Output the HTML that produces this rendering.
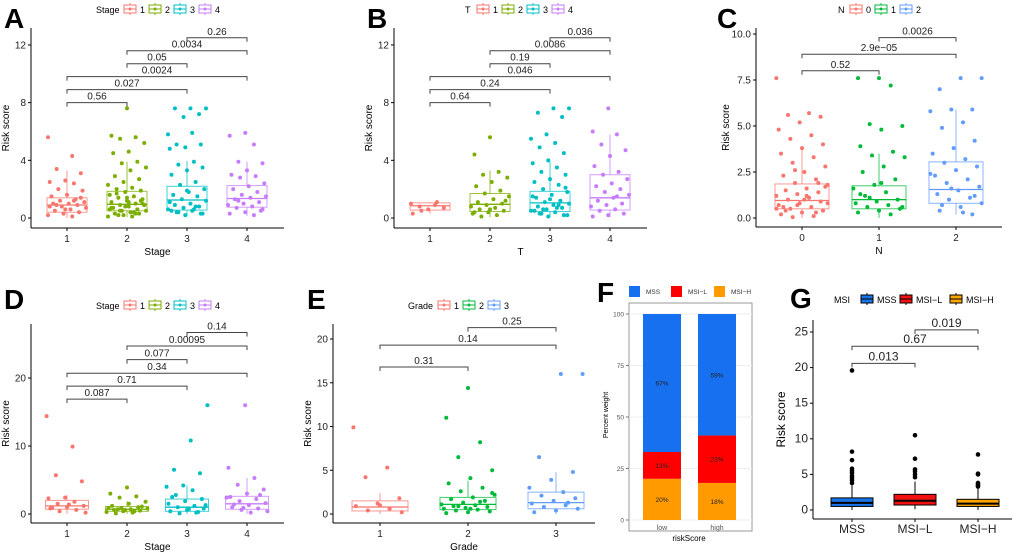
<!DOCTYPE html>
<html><head><meta charset="utf-8"><style>
body{margin:0;background:#fff;}
svg{display:block;font-family:"Liberation Sans",sans-serif;}
</style></head><body>
<svg id="s" width="1020" height="552" viewBox="0 0 1020 552"></svg>
<script>
// ---------- DATA ----------
const A_cats=['1','2','3','4'];
const A_q1=[0.4,0.5,0.55,0.75], A_med=[0.9,0.95,1.25,1.35], A_q3=[1.4,1.85,2.2,2.25], A_lo=[0,0.05,0.15,0.15], A_hi=[3.3,3.9,3.95,3.9];
const A_pts=[[5.6,4.3,3.4,3.1,2.6,2.5,2.4,2.0,1.9,1.6,1.5,1.3,1.2,1.1,1.0,1.0,0.9,0.8,0.7,0.6,0.5,0.4,0.3,0.2,0.1,0.9,1.4,0.6,0.8,1.2],
[7.6,5.7,5.6,5.5,5.2,4.6,4.5,3.9,3.8,3.5,3.3,2.9,2.7,2.5,2.3,2.1,2.0,1.9,1.8,1.6,1.5,1.4,1.3,1.2,1.1,1.0,0.9,0.9,0.8,0.7,0.6,0.5,0.5,0.4,0.3,0.3,0.2,0.1,0.1,1.7,1.2,0.8,0.6,0.4,0.2,1.0,1.4,0.7,0.3,0.5,0.9,1.1],
[7.6,7.6,7.6,7.2,7.0,5.8,5.9,5.1,5.1,4.9,4.8,3.9,3.7,3.5,3.3,3.0,2.5,2.3,2.0,1.8,1.6,1.5,1.3,1.2,1.0,0.9,0.8,0.7,0.6,0.5,0.4,0.3,0.2,1.1,0.6,0.4,0.3,1.9,0.5,0.8],
[5.9,5.7,5.1,3.9,3.8,3.3,3.0,2.9,2.8,2.4,2.2,2.0,1.8,1.6,1.5,1.4,1.3,1.1,1.0,0.9,0.8,0.7,0.5,0.4,0.3,0.2,1.2,0.6]];
const A_brk=[[0,1,8.0,'0.56'],[0,2,8.9,'0.027'],[0,3,9.8,'0.0024'],[1,2,10.7,'0.05'],[1,3,11.6,'0.0034'],[2,3,12.5,'0.26']];
const A_ticks=[0,4,8,12];

const B_cats=['1','2','3','4'];
const B_q1=[0.55,0.45,0.45,0.55], B_med=[0.85,0.95,1.05,1.4], B_q3=[1.05,1.7,1.85,3.0], B_lo=[0.3,0.05,0.05,0.05], B_hi=[1.1,3.3,3.9,5.8];
const B_pts=[[1.0,0.9,0.8,0.7,0.6,0.3,1.1,0.5],
[5.6,4.4,3.2,3.0,2.8,2.5,2.2,1.9,1.7,1.5,1.3,1.1,1.0,0.9,0.8,0.7,0.6,0.5,0.4,0.3,0.2,0.1,1.2,0.6,0.4],
[7.6,7.6,7.3,7.0,5.8,5.5,5.2,4.9,4.5,4.0,3.8,3.5,3.2,3.0,2.7,2.5,2.3,2.0,1.8,1.6,1.4,1.2,1.1,1.0,0.9,0.8,0.7,0.6,0.5,0.4,0.3,0.2,0.1,1.5,0.7,0.3,2.1,1.3,0.5,0.9,0.6,0.2],
[7.6,6.0,5.8,5.1,4.7,4.3,3.6,3.2,3.0,2.7,2.4,2.2,2.0,1.8,1.6,1.4,1.2,1.0,0.9,0.8,0.6,0.5,0.3,0.2,0.1,1.5]];
const B_brk=[[0,1,8.0,'0.64'],[0,2,8.9,'0.24'],[0,3,9.8,'0.046'],[1,2,10.7,'0.19'],[1,3,11.6,'0.0086'],[2,3,12.5,'0.036']];
const B_ticks=[0,4,8,12];

const C_cats=['0','1','2'];
const C_q1=[0.5,0.5,0.8], C_med=[0.95,1.0,1.55], C_q3=[1.85,1.75,3.05], C_lo=[0,0,0.2], C_hi=[3.9,3.5,5.9];
const C_pts=[[7.6,5.7,5.6,5.5,5.2,4.8,4.5,4.3,4.0,3.8,3.5,3.3,3.0,2.8,2.5,2.3,2.1,1.9,1.8,1.6,1.5,1.4,1.3,1.2,1.1,1.0,0.9,0.8,0.7,0.6,0.5,0.4,0.3,0.2,0.1,0.05,1.7,1.0,0.6,0.3,2.6,0.8,1.2,0.4,1.9,0.7,0.5,1.1],
[7.6,7.6,7.2,5.1,5.0,4.8,3.9,3.6,3.4,3.3,2.8,2.5,2.1,1.8,1.6,1.4,1.2,1.0,0.9,0.8,0.7,0.6,0.5,0.4,0.3,0.2,1.1,0.6,1.9,1.3],
[7.6,7.6,7.0,5.9,5.9,5.8,5.2,4.9,4.2,3.8,3.5,3.2,3.0,2.8,2.6,2.3,2.1,1.9,1.7,1.5,1.3,1.1,1.0,0.8,0.6,0.4,0.2,1.6,2.4,0.3,0.7,1.2]];
const C_brk=[[0,1,8.0,'0.52'],[0,2,8.9,'2.9e\u221205'],[1,2,9.8,'0.0026']];
const C_ticks=[0,2.5,5,7.5,10];
const C_tickLbl=['0.0','2.5','5.0','7.5','10.0'];

const D_cats=['1','2','3','4'];
const D_q1=[0.7,0.4,0.4,0.7], D_med=[1.2,0.7,1.0,1.5], D_q3=[2.0,1.1,2.2,2.6], D_lo=[0,0,0,0], D_hi=[2.8,1.9,4.2,5.3];
const D_pts=[[14.4,9.9,5.7,4.8,2.4,2.3,1.8,1.5,1.2,1.0,0.8,0.6,0.4,0.2,1.4,0.9],
[3.9,3.0,2.6,2.4,1.8,1.5,1.2,1.0,0.9,0.8,0.7,0.6,0.5,0.4,0.3,0.2,0.1,1.1,0.6,0.9,0.4,0.7],
[16.0,10.8,6.5,6.0,4.2,4.0,3.5,2.8,2.2,1.9,1.5,1.2,1.0,0.8,0.6,0.4,0.2,0.1,1.3,0.7,2.5,0.3],
[16.0,6.8,5.3,4.3,3.6,3.0,2.5,2.2,1.9,1.6,1.3,1.0,0.8,0.6,0.4,0.2,1.4,2.8,0.9,2.4]];
const D_brk=[[0,1,16.9,'0.087'],[0,2,18.8,'0.71'],[0,3,20.7,'0.34'],[1,2,22.7,'0.077'],[1,3,24.7,'0.00095'],[2,3,26.7,'0.14']];
const D_ticks=[0,10,20];

const E_cats=['1','2','3'];
const E_q1=[0.35,0.5,0.6], E_med=[0.8,1.1,1.3], E_q3=[1.5,1.9,2.5], E_lo=[0,0,0], E_hi=[2.4,3.8,4.8];
const E_pts=[[9.9,5.3,4.2,1.8,1.2,0.9,0.6,0.4,0.2,1.0],
[14.4,11.0,8.2,6.5,5.0,4.1,3.5,3.0,2.6,2.2,1.9,1.7,1.5,1.3,1.1,1.0,0.9,0.8,0.7,0.6,0.5,0.4,0.3,0.2,0.1,1.4,0.9,2.4,0.6],
[16.0,16.0,6.5,4.8,3.9,3.0,2.5,2.1,1.8,1.5,1.2,1.0,0.8,0.6,0.4,0.2,1.3]];
const E_brk=[[0,1,16.8,'0.31'],[0,2,19.3,'0.14'],[1,2,21.3,'0.25']];
const E_ticks=[0,5,10,15,20];

const F_cats=['low','high'];
const F_mss=[67,59], F_msil=[13,23], F_msih=[20,18];
const F_ticks=[0,25,50,75,100];

const G_cats=['MSS','MSI\u2212L','MSI\u2212H'];
const G_q1=[0.5,0.7,0.5], G_med=[1.0,1.3,0.9], G_q3=[1.7,2.2,1.5], G_lo=[0,0.1,0], G_hi=[3.5,4.0,3.1];
const G_out=[[19.6,8.2,7.0,5.8,5.5,5.2,4.8,4.5,4.2,3.8],[10.5,7.2,5.7,5.4,5.0,4.6],[7.8,5.1,5.0,3.8,3.6,3.4,3.3]];
const G_brk=[[0,1,20.6,'0.013'],[0,2,23.0,'0.67'],[1,2,25.3,'0.019']];
const G_ticks=[0,5,10,15,20,25];

// ---------- DRAW ----------
const S=document.getElementById('s'),NS='http://www.w3.org/2000/svg';
function el(t,a,p,txt){const e=document.createElementNS(NS,t);for(const k in a)e.setAttribute(k,a[k]);if(txt!==undefined)e.textContent=txt;(p||S).appendChild(e);return e;}
function grp(name){const g=el('g',{});


return g;}
function letter(x,y,t){const e=el('text',{x:x,y:y,'font-size':28,'font-weight':'bold'},S,t);

}

function boxPanel(c){
  const g=grp(c.name);
  const Y=v=>c.y0-v*c.ppu;
  el('line',{x1:c.ax,y1:c.top,x2:c.ax,y2:c.xAxisY,stroke:'#000','stroke-width':1},g);
  el('line',{x1:c.ax,y1:c.xAxisY,x2:c.right,y2:c.xAxisY,stroke:'#000','stroke-width':1},g);
  c.ticks.forEach((t,i)=>{el('line',{x1:c.ax-3,x2:c.ax,y1:Y(t),y2:Y(t),stroke:'#000'},g);
    const tl=el('text',{x:c.ax-5,y:Y(t)+3.5,'font-size':c.fs||10,'text-anchor':'end',fill:'#222'},g,c.tickLbl?c.tickLbl[i]:t);
    
    });
  c.cats.forEach((k,i)=>{const x=c.cx[i];el('line',{x1:x,x2:x,y1:c.xAxisY,y2:c.xAxisY+3,stroke:'#000'},g);
    const tl=el('text',{x:x,y:c.xAxisY+14,'font-size':c.fs||10,'text-anchor':'middle',fill:'#222'},g,k);
    
    });
  const yt=el('text',{x:0,y:0,'font-size':c.fs||10,'text-anchor':'middle',transform:`translate(${c.ax-c.ytOff},${(c.top+c.xAxisY)/2}) rotate(-90)`},g,'Risk score');
  
  
  if(c.xt){const xt=el('text',{x:(c.ax+c.right)/2,y:c.xAxisY+27,'font-size':10,'text-anchor':'middle'},g,c.xt);
    
    }
  c.cats.forEach((k,i)=>{
    const x=c.cx[i],w=c.bw,col=c.cols[i];
    const bg=el('g',{},g);
    
    
    const sc=c.filled?'#000':col, op=c.filled?1:0.75;
    el('line',{x1:x,x2:x,y1:Y(c.lo[i]),y2:Y(c.q1[i]),stroke:sc,'stroke-opacity':op},bg);
    el('line',{x1:x,x2:x,y1:Y(c.q3[i]),y2:Y(c.hi[i]),stroke:sc,'stroke-opacity':op},bg);
    el('rect',{x:x-w/2,y:Y(c.q3[i]),width:w,height:Y(c.q1[i])-Y(c.q3[i]),fill:c.filled?col:'none',stroke:sc,'stroke-opacity':op,'stroke-width':1},bg);
    el('line',{x1:x-w/2,x2:x+w/2,y1:Y(c.med[i]),y2:Y(c.med[i]),stroke:sc,'stroke-width':c.filled?2:1.3},bg);
    if(c.pts){c.pts[i].forEach((v,j)=>{const off=(((j*37+i*11)%23)/22-0.5)*w*0.95;
      const p=el('circle',{cx:x+off,cy:Y(v),r:2,fill:col},bg);
      
      });}
    if(c.out){c.out[i].forEach(v=>{const p=el('circle',{cx:x,cy:Y(v),r:2.3,fill:'#000'},bg);
      
      });}
  });
  c.brk.forEach(b=>{const x1=c.cx[b[0]],x2=c.cx[b[1]],y=Y(b[2]);
    const bk=el('g',{},g);
    
    
    el('path',{d:`M${x1},${y+4}V${y}H${x2}V${y+4}`,fill:'none',stroke:'#444','stroke-width':1},bk);
    el('text',{x:(x1+x2)/2,y:y-3,'font-size':c.fs||10,'text-anchor':'middle',fill:'#222'},bk,b[3]);});
  if(c.leg){const lg=el('g',{},g);
    
    
    let x=c.leg.x;const y=c.leg.y;
    el('text',{x:x,y:y+4,'font-size':c.leg.fs||9},lg,c.leg.title);x+=c.leg.tw;
    c.cats.forEach((k,i)=>{const col=c.cols[i];
      el('line',{x1:x+6,x2:x+6,y1:y-6,y2:y+6,stroke:c.filled?'#000':col},lg);
      el('rect',{x:x,y:y-4,width:12,height:8,fill:c.filled?col:'#fff',stroke:c.filled?'#000':col},lg);
      el('line',{x1:x,x2:x+12,y1:y,y2:y,stroke:c.filled?'#000':col},lg);
      if(!c.filled)el('circle',{cx:x+6,cy:y,r:1.5,fill:col},lg);
      el('text',{x:x+16,y:y+4,'font-size':c.leg.fs||9},lg,c.leg.labels?c.leg.labels[i]:k);
      x+=c.leg.step[i]||c.leg.step[0];});
  }
}
const hue4=['#F8766D','#7CAE00','#00BFC4','#C77CFF'], hue3=['#F8766D','#00BA38','#619CFF'];

letter(4,28,'A');
boxPanel({name:'panel-a',ax:31,right:284,top:28,xAxisY:228,y0:218,ppu:14.42,cx:[67,127,187,247],bw:40,ytOff:22,cats:A_cats,q1:A_q1,med:A_med,q3:A_q3,lo:A_lo,hi:A_hi,pts:A_pts,brk:A_brk,ticks:A_ticks,cols:hue4,xt:'Stage',
  leg:{x:96,y:9,title:'Stage',tw:28,step:[25]}});
letter(367,28,'B');
boxPanel({name:'panel-b',ax:394,right:647,top:28,xAxisY:228,y0:218,ppu:14.42,cx:[430,490,550,610],bw:40,ytOff:22,cats:B_cats,q1:B_q1,med:B_med,q3:B_q3,lo:B_lo,hi:B_hi,pts:B_pts,brk:B_brk,ticks:B_ticks,cols:hue4,xt:'T',
  leg:{x:465,y:9,title:'T',tw:12,step:[25]}});
letter(717,28,'C');
boxPanel({name:'panel-c',ax:756,right:1002,top:28,xAxisY:227,y0:218,ppu:18.4,cx:[802,879,956],bw:54,ytOff:27,cats:C_cats,q1:C_q1,med:C_med,q3:C_q3,lo:C_lo,hi:C_hi,pts:C_pts,brk:C_brk,ticks:C_ticks,tickLbl:C_tickLbl,cols:hue3,xt:'N',
  leg:{x:838,y:9,title:'N',tw:12,step:[25]}});
letter(4,309,'D');
boxPanel({name:'panel-d',ax:31,right:284,top:324,xAxisY:523,y0:514,ppu:6.8,cx:[67,127,187,247],bw:43,ytOff:22,cats:D_cats,q1:D_q1,med:D_med,q3:D_q3,lo:D_lo,hi:D_hi,pts:D_pts,brk:D_brk,ticks:D_ticks,cols:hue4,xt:'Stage',
  leg:{x:96,y:305,title:'Stage',tw:28,step:[25]}});
letter(307,309,'E');
boxPanel({name:'panel-e',ax:333,right:595,top:324,xAxisY:523,y0:514,ppu:8.75,cx:[380,468,556],bw:56,ytOff:22,cats:E_cats,q1:E_q1,med:E_med,q3:E_q3,lo:E_lo,hi:E_hi,pts:E_pts,brk:E_brk,ticks:E_ticks,cols:hue3,xt:'Grade',
  leg:{x:408,y:305,title:'Grade',tw:30,step:[25]}});
letter(790,308,'G');
boxPanel({name:'panel-g',ax:813,right:1012,top:320,xAxisY:519,y0:510,ppu:7.12,cx:[852,915,978],bw:42,ytOff:28,cats:G_cats,q1:G_q1,med:G_med,q3:G_q3,lo:G_lo,hi:G_hi,out:G_out,brk:G_brk,ticks:G_ticks,cols:['#1874E8','#F21010','#FFA500'],filled:true,fs:12,
  leg:{x:834,y:299,title:'MSI',tw:27,fs:9,step:[39,50,50],labels:['MSS','MSI\u2212L','MSI\u2212H']}});

// ---------- Panel F ----------
(function(){
  letter(597,302,'F');
  const g=grp('panel-f');
  const L=629,R=752,T=303,B=531;const Y=v=>520-v*2.06;const cx=[662,717],bw=38;
  el('rect',{x:L,y:T,width:R-L,height:B-T,fill:'#fff',stroke:'#999'},g);
  F_ticks.forEach(t=>{el('line',{x1:L,x2:R,y1:Y(t),y2:Y(t),stroke:'#eee'},g);
    el('line',{x1:L-3,x2:L,y1:Y(t),y2:Y(t),stroke:'#777'},g);
    el('text',{x:L-5,y:Y(t)+2.5,'font-size':6.5,'text-anchor':'end',fill:'#555'},g,t);});
  F_cats.forEach((k,i)=>{
    const bg=el('g',{},g);
    
    
    const segs=[[F_msih[i],'#FF9A00'],[F_msil[i],'#FF0000'],[F_mss[i],'#1670F0']];
    let acc=0;segs.forEach(s=>{const y1=Y(acc+s[0]),y2=Y(acc);
      el('rect',{x:cx[i]-bw/2,y:y1,width:bw,height:y2-y1,fill:s[1]},bg);
      el('text',{x:cx[i],y:(y1+y2)/2+2.5,'font-size':6.5,'text-anchor':'middle',fill:'#222'},bg,s[0]+'%');
      acc+=s[0];});
    el('text',{x:cx[i],y:B-1,'font-size':7,'text-anchor':'middle',fill:'#555'},g,k);
  });
  el('text',{x:689,y:541,'font-size':8,'text-anchor':'middle'},g,'riskScore');
  el('text',{x:0,y:0,'font-size':7,'text-anchor':'middle',transform:'translate(608,415) rotate(-90)'},g,'Percent weight');
  const lg=el('g',{},g);
  
  
  [['MSS','#1670F0',629],['MSI\u2212L','#FF0000',671],['MSI\u2212H','#FF9A00',714]].forEach(d=>{
    el('rect',{x:d[2],y:286,width:11,height:11,fill:d[1]},lg);
    el('text',{x:d[2]+17,y:294,'font-size':6.5,fill:'#333'},lg,d[0]);});
})();
</script>
</body></html>
